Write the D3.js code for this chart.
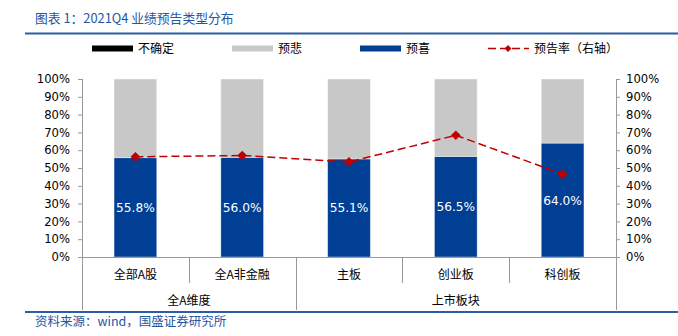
<!DOCTYPE html>
<html><head><meta charset="utf-8">
<script src="https://cdn.jsdelivr.net/npm/d3@7"></script>
<style>body{margin:0;background:#fff}svg{display:block}</style>
</head><body>
<svg id="c" width="678" height="336"></svg>
<script>
const categories = ["全部A股","全A非金融","主板","创业板","科创板"];
const groups = [{name:"全A维度", from:0, to:2},{name:"上市板块", from:2, to:5}];
const uncertain = [0,0,0,0,0];
const positive = [55.8,56.0,55.1,56.5,64.0];
const negative = positive.map((p,i)=>100-p-uncertain[i]);
const rate = [56.3,57.0,53.4,68.4,46.6];
const yTicks = [0,10,20,30,40,50,60,70,80,90,100];

const svg = d3.select("#c");
const blue = "#003F94", gray = "#C8C8C8", red = "#C00000", textBlue = "#2556A0";
const cjk = "'Noto Sans CJK SC', sans-serif";
const num = "'DejaVu Sans', sans-serif";

// title & lines
svg.append("text").attr("x",35).attr("y",23).attr("font-family",cjk).attr("font-size",12.8)
  .attr("fill",textBlue).text("图表 1：2021Q4 业绩预告类型分布");
svg.append("line").attr("x1",25).attr("x2",678).attr("y1",33.5).attr("y2",33.5).attr("stroke","#2E5CA6").attr("stroke-width",2);
svg.append("line").attr("x1",25).attr("x2",678).attr("y1",312).attr("y2",312).attr("stroke","#2E5CA6").attr("stroke-width",2);
svg.append("text").attr("x",35).attr("y",326).attr("font-family",cjk).attr("font-size",12.5)
  .attr("fill",textBlue).text("资料来源：wind，国盛证券研究所");

const L=82, R=616, T=79, B=257;
const x = d3.scaleBand().domain(categories).range([L,R]).paddingInner(0.6).paddingOuter(0.3);
const y = d3.scaleLinear().domain([0,100]).range([B,T]);

// axes
const yl = d3.axisLeft(y).tickValues(yTicks).tickSize(4).tickFormat(d=>d+"%");
const gl = svg.append("g").attr("transform",`translate(${L},0)`).call(yl);
const yr = d3.axisRight(y).tickValues(yTicks).tickSize(4).tickFormat(d=>d+"%");
const gr = svg.append("g").attr("transform",`translate(${R},0)`).call(yr);
[gl,gr].forEach(g=>{
  g.select(".domain").remove();
  g.selectAll(".tick line").attr("stroke","#999");
  g.selectAll(".tick text").attr("font-family",num).attr("font-size",11.6).attr("fill","#000");
});
gl.selectAll(".tick text").attr("x",-12);
gr.selectAll(".tick text").attr("x",10);
// left & right axis lines extended down
svg.append("line").attr("x1",L+0.5).attr("x2",L+0.5).attr("y1",T).attr("y2",310).attr("stroke","#999");
svg.append("line").attr("x1",R+0.5).attr("x2",R+0.5).attr("y1",T).attr("y2",310).attr("stroke","#999");

// bars
const stackData = categories.map((c,i)=>({c, pos:positive[i], neg:negative[i], unc:uncertain[i]}));
const series = d3.stack().keys(["pos","neg","unc"])(stackData);
const colors = {pos:blue, neg:gray, unc:"#000"};
svg.append("g").selectAll("g").data(series).join("g")
  .attr("fill",d=>colors[d.key])
  .selectAll("rect").data(d=>d).join("rect")
  .attr("x",d=>x(d.data.c)).attr("width",x.bandwidth())
  .attr("y",d=>y(d[1])).attr("height",d=>y(d[0])-y(d[1]))
  .attr("stroke","rgba(255,255,255,0.5)").attr("stroke-width",0.8);

// data labels
svg.append("g").selectAll("text").data(stackData).join("text")
  .attr("x",d=>x(d.c)+x.bandwidth()/2).attr("y",d=>y(d.pos/2)+4.5)
  .attr("text-anchor","middle").attr("font-family",num).attr("font-size",12.2).attr("fill","#fff")
  .text(d=>d.pos.toFixed(1)+"%");

// x axis line
svg.append("line").attr("x1",L).attr("x2",R).attr("y1",B+0.5).attr("y2",B+0.5).attr("stroke","#999");
const boundary = i => L + i*(R-L)/categories.length;
// category separators
for(let i=1;i<categories.length;i++){
  const isGroup = groups.some(g=>g.from===i);
  svg.append("line").attr("x1",Math.round(boundary(i))+0.5).attr("x2",Math.round(boundary(i))+0.5)
    .attr("y1",B).attr("y2",isGroup?310:283).attr("stroke","#999");
}
svg.append("g").selectAll("text").data(categories).join("text")
  .attr("x",d=>x(d)+x.bandwidth()/2).attr("y",279).attr("text-anchor","middle")
  .attr("font-family",cjk).attr("font-size",12).attr("fill","#000").text(d=>d);
svg.append("g").selectAll("text").data(groups).join("text")
  .attr("x",d=>(boundary(d.from)+boundary(d.to))/2).attr("y",305).attr("text-anchor","middle")
  .attr("font-family",cjk).attr("font-size",12).attr("fill","#000").text(d=>d.name);

// rate line
const cx = c => x(c)+x.bandwidth()/2;
svg.append("path").datum(rate)
  .attr("d",d3.line().x((d,i)=>cx(categories[i])).y(d=>y(d)))
  .attr("fill","none").attr("stroke",red).attr("stroke-width",1.5).attr("stroke-dasharray","8,4");
svg.append("g").selectAll("path").data(rate).join("path")
  .attr("d",d3.symbol(d3.symbolDiamond2,60))
  .attr("transform",(d,i)=>`translate(${cx(categories[i])},${y(d)})`)
  .attr("fill",red);

// legend
const lg = svg.append("g");
const items = [
  {label:"不确定", type:"rect", color:"#000", x:92},
  {label:"预悲", type:"rect", color:gray, x:232},
  {label:"预喜", type:"rect", color:blue, x:360},
  {label:"预告率（右轴）", type:"line", color:red, x:488}
];
items.forEach(it=>{
  if(it.type==="rect"){
    lg.append("rect").attr("x",it.x).attr("y",45.5).attr("width",41).attr("height",6).attr("fill",it.color);
  } else {
    lg.append("line").attr("x1",it.x).attr("x2",it.x+41).attr("y1",48.5).attr("y2",48.5)
      .attr("stroke",it.color).attr("stroke-width",1.5).attr("stroke-dasharray","8,4");
    lg.append("path").attr("d",d3.symbol(d3.symbolDiamond2,30)).attr("transform",`translate(${it.x+20},48.5)`).attr("fill",it.color);
  }
  lg.append("text").attr("x",it.x+46).attr("y",53).attr("font-family",cjk).attr("font-size",12)
    .attr("fill","#000").text(it.label);
});
</script>
</body></html>
